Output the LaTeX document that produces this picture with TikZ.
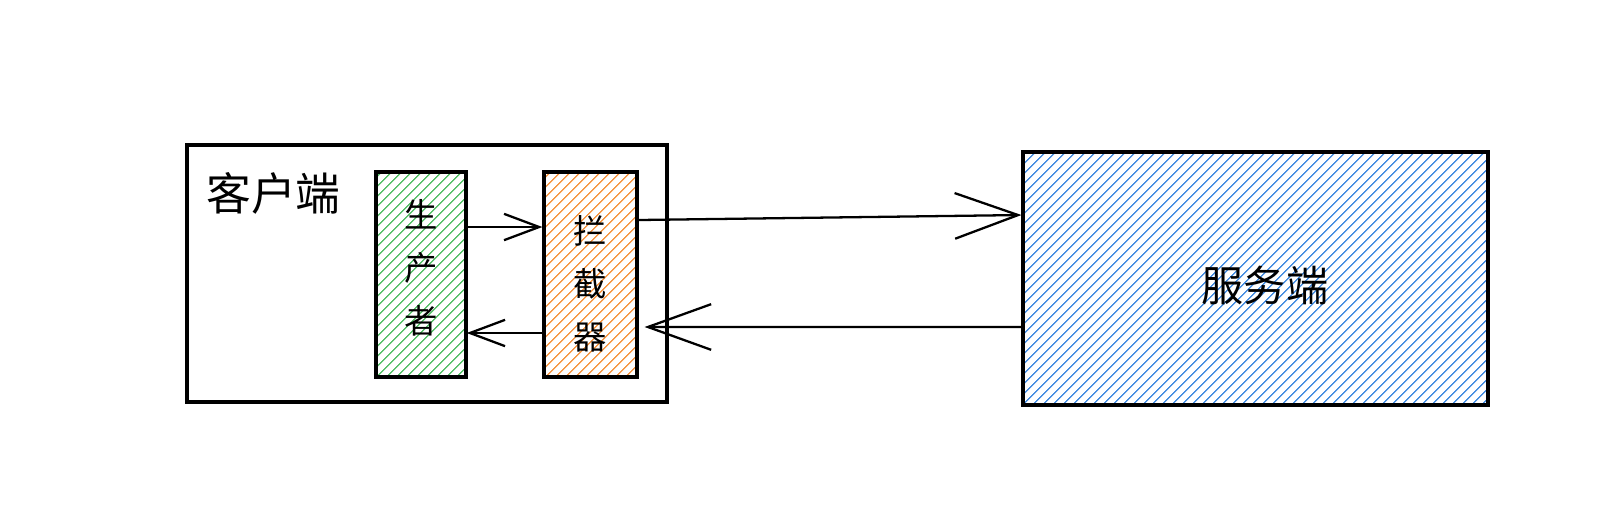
\documentclass[tikz,border=0pt]{standalone}
\usepackage{fontspec}
\setmainfont{Noto Sans CJK SC}
\usetikzlibrary{arrows.meta,patterns.meta}

\definecolor{prodgreen}{HTML}{5CC26E}
\definecolor{icptorange}{HTML}{F59A4A}
\definecolor{srvblue}{HTML}{4A90E2}

\tikzset{
  box/.style={draw, line width=1.8pt, inner sep=0pt},
  hatch/.style={pattern={Lines[angle=45,distance=4pt,line width=0.8pt]}, pattern color=#1},
  bigtip/.style={-{Straight Barb[length=36pt,width=26pt,line width=1.3pt]}},
  smalltip/.style={-{Straight Barb[length=20pt,width=15pt,line width=1.3pt]}}
}

\begin{document}
\begin{tikzpicture}[x=0.02cm,y=-0.02cm]
      \useasboundingbox (0,0) rectangle (1600,525);

      \begin{scope}[every node/.style={box}]
        \node (client) at (427,273.5) [minimum width=9.6cm, minimum height=5.14cm] {};
        \node (prod)   at (421,274.5) [hatch=prodgreen, minimum width=1.8cm, minimum height=4.1cm] {};
        \node (icpt)   at (590.5,274.5) [hatch=icptorange, minimum width=1.86cm, minimum height=4.1cm] {};
        \node (server) at (1255.5,278.5) [hatch=srvblue, minimum width=9.3cm, minimum height=5.06cm] {};
      \end{scope}

      \begin{scope}[every node/.style={align=center, font=\fontsize{19}{30}\selectfont}]
        \node (clienttxt) at (200,193) [anchor=west, font=\fontsize{25.5}{28}\selectfont] {客户端};
        \node (prodtxt)   at (421,268) {生\\产\\者};
        \node (icpttxt)   at (590.5,284) {拦\\截\\器};
        \node (servertxt) at (1265,285) [font=\fontsize{24}{28}\selectfont] {服务端};
      \end{scope}

      \begin{scope}[line width=1.3pt]
        \path ([yshift=0.95cm]prod.east)    edge[draw, smalltip] ([yshift=0.95cm]icpt.west);
        \path ([yshift=-1.17cm]icpt.west)   edge[draw, smalltip] ([yshift=-1.17cm]prod.east);
        \path ([yshift=1.09cm]icpt.east)    edge[draw, bigtip] ([yshift=1.27cm]server.west);
        \path ([yshift=-0.97cm]server.west) edge[draw, bigtip] ([xshift=0.12cm,yshift=-1.05cm]icpt.east);
      \end{scope}

\end{tikzpicture}
\end{document}
